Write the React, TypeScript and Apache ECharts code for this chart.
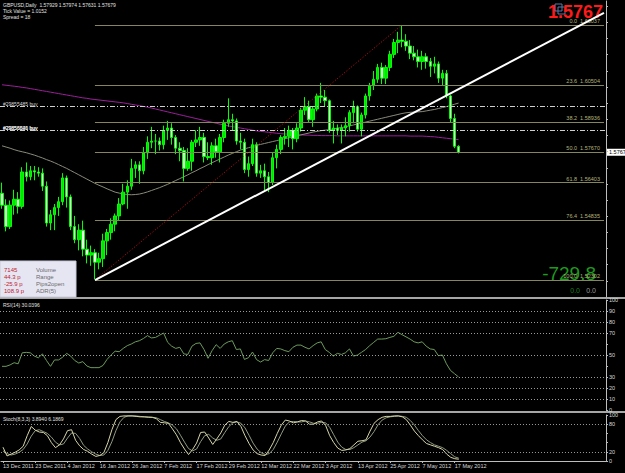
import React, { useEffect, useRef } from "react";
import * as echarts from "echarts";

// ---------- DATA ----------
const SYMBOL_HEADER = "GBPUSD,Daily  1.57929 1.57974 1.57631 1.57679";
const TICK_VALUE = "Tick Value = 1.0152";
const SPREAD = "Spread = 18";
const FIRST_DAY = "2011-12-13";
const BAR_COUNT = 114;
const SLOT_COUNT = 150; // bars + chart shift space
const BASE = 1.5161; // price-axis reference tick
const STEP = 0.0068; // price-axis tick step
const MAIN_MIN = 1.51586;
const MAIN_MAX = 1.64047;

const opens = [
  1.5595, 1.5545, 1.5455, 1.5545, 1.557, 1.554, 1.5685, 1.5665, 1.569, 1.5685,
  1.568, 1.5625, 1.547, 1.5505, 1.5535, 1.556, 1.566, 1.558, 1.5455, 1.54,
  1.544, 1.536, 1.5335, 1.5345, 1.5305, 1.532, 1.5395, 1.543, 1.5465, 1.55,
  1.555, 1.56, 1.5625, 1.57, 1.5715, 1.569, 1.5765, 1.581, 1.5815, 1.5815,
  1.58, 1.586, 1.587, 1.583, 1.5785, 1.5775, 1.57, 1.573, 1.581, 1.582,
  1.583, 1.575, 1.5745, 1.5795, 1.577, 1.583, 1.589, 1.5905, 1.59, 1.5815,
  1.581, 1.5695, 1.572, 1.58, 1.568, 1.569, 1.5665, 1.564, 1.5745, 1.578,
  1.583, 1.5835, 1.586, 1.5825, 1.587, 1.5945, 1.596, 1.5905, 1.595, 1.6005,
  1.6, 1.5985, 1.586, 1.587, 1.586, 1.587, 1.588, 1.5935, 1.596, 1.5865,
  1.5925, 1.6005, 1.605, 1.6075, 1.6125, 1.608, 1.6125, 1.618, 1.623, 1.624,
  1.6235, 1.6215, 1.6185, 1.617, 1.615, 1.617, 1.615, 1.613, 1.614, 1.608,
  1.61, 1.6005, 1.591, 1.57929,
];
const highs = [
  1.564, 1.557, 1.5565, 1.561, 1.56, 1.5705, 1.5725, 1.571, 1.571, 1.5705,
  1.57, 1.5645, 1.5525, 1.555, 1.558, 1.568, 1.567, 1.559, 1.55, 1.5465,
  1.548, 1.54, 1.5375, 1.536, 1.5345, 1.5425, 1.5445, 1.549, 1.551, 1.5575,
  1.5635, 1.565, 1.574, 1.573, 1.573, 1.579, 1.5835, 1.5875, 1.5845, 1.583,
  1.588, 1.59, 1.589, 1.584, 1.581, 1.579, 1.5785, 1.582, 1.586, 1.5875,
  1.585, 1.581, 1.581, 1.5825, 1.5845, 1.5905, 1.5995, 1.593, 1.591, 1.585,
  1.5825, 1.575, 1.5825, 1.581, 1.5715, 1.572, 1.5685, 1.5765, 1.58, 1.584,
  1.587, 1.588, 1.587, 1.589, 1.5955, 1.6, 1.5985, 1.596, 1.6015, 1.606,
  1.603, 1.599, 1.59, 1.5885, 1.5885, 1.5915, 1.5945, 1.5985, 1.5965, 1.5935,
  1.6015, 1.606, 1.611, 1.614, 1.6145, 1.6135, 1.6195, 1.6245, 1.6275, 1.6302,
  1.6265, 1.624, 1.6215, 1.62, 1.6195, 1.6185, 1.6165, 1.617, 1.615, 1.6115,
  1.6114, 1.601, 1.593, 1.57974,
];
const lows = [
  1.553, 1.5435, 1.5445, 1.5505, 1.551, 1.553, 1.5645, 1.565, 1.565, 1.5665,
  1.5605, 1.5455, 1.544, 1.544, 1.55, 1.5545, 1.5535, 1.544, 1.5385, 1.5355,
  1.533, 1.53, 1.529, 1.5234, 1.5275, 1.5285, 1.5335, 1.54, 1.5435, 1.548,
  1.5545, 1.553, 1.561, 1.566, 1.5635, 1.5675, 1.574, 1.5785, 1.576, 1.5775,
  1.578, 1.582, 1.58, 1.576, 1.573, 1.5645, 1.569, 1.569, 1.579, 1.5795,
  1.5725, 1.5735, 1.5715, 1.5745, 1.5725, 1.581, 1.5875, 1.586, 1.58, 1.578,
  1.568, 1.5665, 1.571, 1.5665, 1.566, 1.5605, 1.56, 1.563, 1.57, 1.576,
  1.58, 1.579, 1.578, 1.581, 1.5855, 1.5925, 1.5895, 1.5875, 1.594, 1.5975,
  1.596, 1.585, 1.5805, 1.584, 1.5805, 1.5835, 1.5855, 1.589, 1.5855, 1.5835,
  1.591, 1.5985, 1.603, 1.606, 1.6055, 1.6055, 1.611, 1.6165, 1.6185, 1.621,
  1.6195, 1.616, 1.6155, 1.6125, 1.6115, 1.612, 1.6085, 1.61, 1.606, 1.605,
  1.5995, 1.5895, 1.5785, 1.57631,
];
const closes = [
  1.5545, 1.5455, 1.5545, 1.557, 1.554, 1.5685, 1.5665, 1.569, 1.5685, 1.568,
  1.5625, 1.547, 1.5505, 1.5535, 1.556, 1.566, 1.558, 1.5455, 1.54, 1.544,
  1.536, 1.5335, 1.5345, 1.5305, 1.532, 1.5395, 1.543, 1.5465, 1.55, 1.555,
  1.56, 1.5625, 1.57, 1.5715, 1.569, 1.5765, 1.581, 1.5815, 1.5815, 1.58,
  1.586, 1.587, 1.583, 1.5785, 1.5775, 1.57, 1.573, 1.581, 1.582, 1.583,
  1.575, 1.5745, 1.5795, 1.577, 1.583, 1.589, 1.5905, 1.59, 1.5815, 1.581,
  1.5695, 1.572, 1.58, 1.568, 1.569, 1.5665, 1.564, 1.5745, 1.578, 1.583,
  1.5835, 1.586, 1.5825, 1.587, 1.5945, 1.596, 1.5905, 1.595, 1.6005, 1.6,
  1.5985, 1.586, 1.587, 1.586, 1.587, 1.588, 1.5935, 1.596, 1.5865, 1.5925,
  1.6005, 1.605, 1.6075, 1.6125, 1.608, 1.6125, 1.618, 1.623, 1.624, 1.6235,
  1.6215, 1.6185, 1.617, 1.615, 1.617, 1.615, 1.613, 1.614, 1.608, 1.61,
  1.6005, 1.591, 1.5793, 1.57679,
];

const maSlow = [
  1.6052, 1.605, 1.6048, 1.6046, 1.6044, 1.6041, 1.6039, 1.6036, 1.6033, 1.603,
  1.6027, 1.6024, 1.6021, 1.6018, 1.6015, 1.6012, 1.6009, 1.6006, 1.6003, 1.6,
  1.5997, 1.5995, 1.5992, 1.599, 1.5988, 1.5986, 1.5984, 1.5982, 1.598, 1.5978,
  1.5976, 1.5973, 1.597, 1.5967, 1.5964, 1.5961, 1.5958, 1.5954, 1.595, 1.5946,
  1.5942, 1.5938, 1.5934, 1.593, 1.5926, 1.5922, 1.5918, 1.5914, 1.591, 1.5906,
  1.5902, 1.5898, 1.5894, 1.589, 1.5886, 1.5882, 1.5879, 1.5876, 1.5873, 1.587,
  1.5867, 1.5864, 1.5861, 1.5858, 1.5856, 1.5854, 1.5852, 1.585, 1.5848, 1.5846,
  1.5845, 1.5844, 1.5843, 1.5842, 1.5841, 1.584, 1.584, 1.5839, 1.5839, 1.5838,
  1.5838, 1.5838, 1.5838, 1.5837, 1.5837, 1.5837, 1.5837, 1.5837, 1.5837, 1.5837,
  1.5837, 1.5837, 1.5837, 1.5837, 1.5837, 1.5837, 1.5837, 1.5837, 1.5837, 1.5837,
  1.5837, 1.5836, 1.5836, 1.5836, 1.5836, 1.5835, 1.5834, 1.5833, 1.5831, 1.5829,
  1.5827, 1.5825, 1.5823, 1.5821,
];
const maFast = [
  1.5795, 1.579, 1.5785, 1.5779, 1.5774, 1.577, 1.5766, 1.5761, 1.5756, 1.575,
  1.5744, 1.5737, 1.5731, 1.5724, 1.5716, 1.5708, 1.57, 1.5691, 1.5682, 1.5673,
  1.5664, 1.5655, 1.5646, 1.5637, 1.5629, 1.5622, 1.5614, 1.5607, 1.56, 1.5596,
  1.5592, 1.559, 1.5589, 1.559, 1.5592, 1.5596, 1.5601, 1.5607, 1.5613, 1.5619,
  1.5626, 1.5633, 1.5641, 1.5649, 1.5657, 1.5665, 1.5673, 1.5682, 1.569, 1.5699,
  1.5707, 1.5716, 1.5724, 1.5732, 1.574, 1.5748, 1.5756, 1.5763, 1.577, 1.5777,
  1.5782, 1.5787, 1.5792, 1.5797, 1.5801, 1.5805, 1.5809, 1.5813, 1.5817, 1.5821,
  1.5825, 1.5829, 1.5833, 1.5837, 1.5841, 1.5845, 1.5849, 1.5853, 1.5856, 1.5859,
  1.5861, 1.5863, 1.5866, 1.5869, 1.5872, 1.5875, 1.5879, 1.5883, 1.5887, 1.5891,
  1.5895, 1.5899, 1.5903, 1.5907, 1.5911, 1.5915, 1.5919, 1.5923, 1.5927, 1.5931,
  1.5934, 1.5936, 1.5937, 1.5938, 1.5939, 1.5942, 1.5945, 1.5948, 1.5952, 1.5956,
  1.596, 1.5965, 1.597, 1.5975,
];

const rsi = [
  39.7, 39.7, 41, 43, 42, 52, 52.4, 52, 49, 47.5,
  51, 45, 39.7, 45.5, 45.5, 48, 51.5, 49, 45, 42.7,
  44, 40, 38.5, 38.5, 38.5, 40.5, 46, 50, 53.5, 53,
  56, 58.5, 60, 62, 63, 65, 67.6, 65.5, 66, 68,
  70, 61.5, 58, 56, 57, 51, 50.5, 58, 60.5, 61,
  55, 47, 54, 59.4, 56, 60, 62, 63, 55, 55.5,
  46, 47.5, 52.7, 45.8, 43.6, 45.8, 45, 52, 56, 55.5,
  54, 53, 57, 59, 59, 57, 55.5, 58.5, 61, 62,
  55, 52.4, 49, 51.5, 50.5, 52, 55.5, 49, 50, 52.5,
  55, 58.5, 61.5, 64.5, 64.5, 64.8, 66, 67, 70.6, 68.5,
  66.5, 64.5, 62, 61, 62, 58, 55.5, 55, 49.4, 50,
  42, 36, 33, 30.04,
];
const stochMain = [
  30, 11, 15, 19, 24, 32, 55, 75, 67, 63,
  62, 55, 40, 29, 35, 48, 66, 68, 45, 33,
  25, 21, 15, 10, 12, 18, 40, 68, 90, 97,
  98, 98, 98, 97, 96, 96, 95, 95, 92, 84,
  83, 82, 70, 57, 40, 26, 14, 25, 39, 62,
  63, 50, 36, 48, 61, 78, 86, 84, 86, 75,
  55, 38, 24, 16, 13, 12, 24, 40, 60, 78,
  89, 87, 83, 85, 88, 87, 80, 80, 85, 87,
  77, 55, 40, 28, 23, 24, 27, 35, 43, 44,
  46, 65, 82, 90, 95, 97, 97, 98, 98, 96,
  90, 78, 65, 55, 46, 38, 35, 32, 29, 25,
  15, 8, 5, 3.894,
];
const stochSignal = [
  22, 16, 13, 15, 19, 25, 37, 54, 66, 68,
  64, 60, 52, 41, 35, 37, 50, 61, 60, 49,
  34, 26, 20, 15, 12, 13, 23, 42, 66, 85,
  95, 98, 98, 98, 97, 96, 96, 95, 94, 90,
  86, 83, 78, 70, 56, 41, 27, 22, 26, 42,
  55, 58, 50, 45, 48, 62, 75, 83, 85, 82,
  72, 56, 39, 26, 18, 14, 16, 25, 41, 59,
  76, 85, 86, 85, 85, 87, 85, 82, 82, 84,
  83, 73, 57, 41, 30, 25, 25, 29, 35, 41,
  44, 52, 64, 79, 89, 94, 96, 97, 98, 97,
  95, 88, 78, 66, 55, 46, 40, 35, 32, 29,
  23, 16, 9, 6.1869,
];

const fibLevels = [0, 23.6, 38.2, 50, 61.8, 76.4, 100];
const fibPrices = [1.63037, 1.60504, 1.58936, 1.5767, 1.56403, 1.54835, 1.52302];
const FIB_START_BAR = 23;
const fibTrend = [
  [23, 1.52302],
  [99, 1.63037],
];
const trendLine = [
  [23, 1.523],
  [149, 1.6355],
];
const orderLabels = ["#29855485 buy", "#29855626 buy", "#29856040 buy", "#29856541 buy"];
const orderPrices = [1.59206, 1.59059, 1.58869, 1.58175];

const rsiLevels = [10, 20, 30, 50, 70, 80, 90];
const rsiTickLabels = [0, 10, 20, 30, 50, 70, 80, 90, 100];
const stochLevels = [20, 80];
const stochTickLabels = [0, 20, 80, 100];

const infoValues = ["7145", "44.3 p", "-25.9 p", "108.9 p"];
const infoNames = ["Volume", "Range", "Pips2open", "ADR(5)"];
const BIG_PRICE = "1.5767";
const PROFIT = "-729.8";
const SMALL_A = "0.0";
const SMALL_B = "0.0";

const MONTHS = ["Jan", "Feb", "Mar", "Apr", "May", "Jun", "Jul", "Aug", "Sep", "Oct", "Nov", "Dec"];

function tradingDays(start: string, n: number): string[] {
  const d = new Date(start + "T00:00:00Z");
  const out: string[] = [];
  while (out.length < n) {
    const wd = d.getUTCDay();
    if (wd !== 0 && wd !== 6) {
      out.push(`${d.getUTCDate()} ${MONTHS[d.getUTCMonth()]} ${d.getUTCFullYear()}`);
    }
    d.setUTCDate(d.getUTCDate() + 1);
  }
  return out;
}

const FONT = '"Liberation Sans", Arial, sans-serif';
const AXIS_COLOR = "#bdbdbd";
const LABEL_COLOR = "#d8d8d8";

export default function App() {
  const ref = useRef<HTMLDivElement>(null);

  useEffect(() => {
    document.body.style.margin = "0";
    document.body.style.background = "#000";
    const el = ref.current!;
    const chart = echarts.init(el, null, { renderer: "svg" });

    const dates = tradingDays(FIRST_DAY, BAR_COUNT);
    const categories: string[] = [];
    for (let i = 0; i < SLOT_COUNT; i++) categories.push(i < BAR_COUNT ? dates[i] : "f" + i);

    const off = (v: number) => v - BASE;
    const candleData = opens.map((o, i) => [off(o), off(closes[i]), off(lows[i]), off(highs[i])]);

    const gridDefs = [
      { left: 0, top: 1, width: 606, height: 296 },
      { left: 0, top: 300, width: 606, height: 110 },
      { left: 0, top: 415, width: 606, height: 46 },
    ];

    const xAxes = gridDefs.map((_, gi) => ({
      type: "category",
      gridIndex: gi,
      data: categories,
      boundaryGap: true,
      axisLine: gi === 2 ? { show: true, lineStyle: { color: AXIS_COLOR, width: 1 } } : { show: false },
      axisTick:
        gi === 2
          ? {
              show: true,
              alignWithLabel: true,
              length: 2,
              interval: (idx: number) => idx < BAR_COUNT && idx % 8 === 0,
              lineStyle: { color: AXIS_COLOR },
            }
          : { show: false },
      axisLabel:
        gi === 2
          ? {
              show: true,
              interval: (idx: number) => idx < BAR_COUNT && idx % 8 === 0,
              align: "left",
              margin: 2,
              fontSize: 5.5,
              fontFamily: FONT,
              color: LABEL_COLOR,
              formatter: (v: string, idx: number) => (idx < BAR_COUNT ? v : ""),
            }
          : { show: false },
      splitLine: { show: false },
    }));

    const yAxisCommon = {
      position: "right",
      splitLine: { show: false },
      axisLine: { show: true, lineStyle: { color: AXIS_COLOR, width: 1 } },
      axisTick: { show: true, length: 2, lineStyle: { color: AXIS_COLOR } },
    };

    const yAxes = [
      {
        ...yAxisCommon,
        type: "value",
        gridIndex: 0,
        min: off(MAIN_MIN),
        max: off(MAIN_MAX),
        interval: STEP,
        axisLabel: {
          fontSize: 5.5,
          fontFamily: FONT,
          color: LABEL_COLOR,
          margin: 3,
          showMinLabel: false,
          showMaxLabel: false,
          formatter: (v: number) => {
            const k = v / STEP;
            if (Math.abs(k - Math.round(k)) > 0.01) return "";
            return (BASE + Math.round(k) * STEP).toFixed(5);
          },
        },
      },
      {
        ...yAxisCommon,
        type: "value",
        gridIndex: 1,
        min: 0,
        max: 100,
        interval: 10,
        axisLabel: {
          fontSize: 5.5,
          fontFamily: FONT,
          color: LABEL_COLOR,
          margin: 3,
          formatter: (v: number) => (rsiTickLabels.includes(Math.round(v)) ? String(Math.round(v)) : ""),
        },
      },
      {
        ...yAxisCommon,
        type: "value",
        gridIndex: 2,
        min: 0,
        max: 100,
        interval: 20,
        axisLabel: {
          fontSize: 5.5,
          fontFamily: FONT,
          color: LABEL_COLOR,
          margin: 3,
          formatter: (v: number) => (stochTickLabels.includes(Math.round(v)) ? String(Math.round(v)) : ""),
        },
      },
    ];

    const levelLine = (levels: number[]) => ({
      silent: true,
      symbol: ["none", "none"],
      label: { show: false },
      lineStyle: { color: "#9a9a9a", type: [1, 2], width: 1 },
      data: levels.map((l) => ({ yAxis: l })),
    });

    const series: any[] = [
      {
        name: "fib",
        type: "line",
        xAxisIndex: 0,
        yAxisIndex: 0,
        data: [],
        z: 1,
        markLine: {
          silent: true,
          symbol: ["none", "none"],
          lineStyle: { color: "#86865c", type: "solid", width: 1 },
          label: {
            show: true,
            position: "insideEndTop",
            distance: [4, 1],
            fontSize: 5.5,
            fontFamily: FONT,
            color: "#b4b47a",
          },
          data: fibLevels.map((lv, k) => [
            {
              coord: [FIB_START_BAR, off(fibPrices[k])],
              label: { formatter: `${lv.toFixed(1)}  ${fibPrices[k].toFixed(5)}` },
            },
            { coord: [SLOT_COUNT - 1, off(fibPrices[k])] },
          ]),
        },
      },
      {
        name: "orders",
        type: "line",
        xAxisIndex: 0,
        yAxisIndex: 0,
        data: [],
        z: 2,
        markLine: {
          silent: true,
          symbol: ["none", "none"],
          lineStyle: { color: "#cfcfcf", type: [5, 2, 1, 2], width: 1 },
          label: {
            show: true,
            position: "insideStartTop",
            distance: [3, 0],
            fontSize: 5,
            fontFamily: FONT,
            color: "#d8d8d8",
          },
          data: orderPrices.map((p, k) => ({ yAxis: off(p), label: { formatter: orderLabels[k] } })),
        },
      },
      {
        name: "maSlow",
        type: "line",
        xAxisIndex: 0,
        yAxisIndex: 0,
        data: maSlow.map(off),
        symbol: "none",
        z: 3,
        lineStyle: { color: "#9b1f9b", width: 1 },
      },
      {
        name: "maFast",
        type: "line",
        xAxisIndex: 0,
        yAxisIndex: 0,
        data: maFast.map(off),
        symbol: "none",
        z: 3,
        lineStyle: { color: "#8a8a7a", width: 1 },
      },
      {
        name: "candles",
        type: "candlestick",
        xAxisIndex: 0,
        yAxisIndex: 0,
        data: candleData,
        barWidth: 3,
        z: 4,
        itemStyle: {
          color: "#00e600",
          color0: "#e6ffe0",
          borderColor: "#00ff00",
          borderColor0: "#00ff00",
          borderWidth: 1,
        },
      },
      {
        name: "fibTrend",
        type: "line",
        xAxisIndex: 0,
        yAxisIndex: 0,
        data: fibTrend.map(([x, y]) => [x, off(y)]),
        symbol: "none",
        z: 5,
        lineStyle: { color: "#d01010", width: 1, type: [1, 2] },
      },
      {
        name: "trend",
        type: "line",
        xAxisIndex: 0,
        yAxisIndex: 0,
        data: trendLine.map(([x, y]) => [x, off(y)]),
        symbol: "none",
        z: 6,
        lineStyle: { color: "#ffffff", width: 2 },
      },
      {
        name: "rsi",
        type: "line",
        xAxisIndex: 1,
        yAxisIndex: 1,
        data: rsi,
        symbol: "none",
        lineStyle: { color: "#6c9a5c", width: 1 },
        markLine: levelLine(rsiLevels),
      },
      {
        name: "stochSignal",
        type: "line",
        xAxisIndex: 2,
        yAxisIndex: 2,
        data: stochSignal,
        symbol: "none",
        lineStyle: { color: "#8f9a80", width: 1 },
        markLine: levelLine(stochLevels),
      },
      {
        name: "stochMain",
        type: "line",
        xAxisIndex: 2,
        yAxisIndex: 2,
        data: stochMain,
        symbol: "none",
        lineStyle: { color: "#d6d6a8", width: 1 },
      },
    ];

    chart.setOption({
      animation: false,
      backgroundColor: "#000000",
      grid: gridDefs,
      xAxis: xAxes,
      yAxis: yAxes,
      series,
    });

    const lastClose = closes[closes.length - 1];
    const pY = chart.convertToPixel({ yAxisIndex: 0 } as any, off(lastClose)) as number;

    const txt = (x: number, y: number, text: string, fill: string, font: string, align = "left", valign = "top") => ({
      type: "text",
      x,
      y,
      silent: true,
      style: { text, fill, font, textAlign: align, textVerticalAlign: valign },
    });

    const graphics: any[] = [
      { type: "rect", silent: true, shape: { x: 0, y: 297, width: 625, height: 2 }, style: { fill: "#a6a6a6" } },
      { type: "rect", silent: true, shape: { x: 0, y: 411, width: 625, height: 2 }, style: { fill: "#a6a6a6" } },
      txt(3, 2, SYMBOL_HEADER, "#e0e0e0", `5px ${FONT}`),
      txt(3, 8, TICK_VALUE, "#e0e0e0", `5px ${FONT}`),
      txt(3, 14, SPREAD, "#e0e0e0", `5px ${FONT}`),
      txt(3, 302, "RSI(14) 30.0396", "#e0e0e0", `5px ${FONT}`),
      txt(3, 416, "Stoch(8,3,3) 3.8940 6.1869", "#e0e0e0", `5px ${FONT}`),
      { type: "rect", silent: true, shape: { x: 555, y: 4, width: 7, height: 7 }, style: { fill: "none", stroke: "#5a78a8", lineWidth: 1 } },
      { type: "rect", silent: true, shape: { x: 558, y: 7, width: 7, height: 7 }, style: { fill: "none", stroke: "#5a78a8", lineWidth: 1 } },
      txt(603, 3, BIG_PRICE, "#ff1a1a", `bold 18px ${FONT}`, "right"),
      txt(596, 273, PROFIT, "#1e9a1e", `19px ${FONT}`, "right", "middle"),
      txt(580, 290, SMALL_A, "#1f7a1f", `7px ${FONT}`, "right", "middle"),
      txt(596, 290, SMALL_B, "#9a9a9a", `7px ${FONT}`, "right", "middle"),
      { type: "rect", silent: true, shape: { x: 0, y: 261, width: 76, height: 36 }, style: { fill: "#e6e6f3", stroke: "#c8c8d8", lineWidth: 1 } },
      ...infoValues.map((v, i) => txt(4, 270 + i * 7, v, "#c0202e", `6px ${FONT}`, "left", "middle")),
      ...infoNames.map((v, i) => txt(36, 270 + i * 7, v, "#6a6a6a", `6px ${FONT}`, "left", "middle")),
      { type: "rect", silent: true, shape: { x: 607, y: pY - 3.5, width: 20, height: 7 }, style: { fill: "#ffffff" } },
      txt(609, pY, lastClose.toFixed(5), "#000000", `5.5px ${FONT}`, "left", "middle"),
    ];

    chart.setOption({ graphic: graphics });

    return () => chart.dispose();
  }, []);

  return (
    <div
      ref={ref}
      style={{ position: "absolute", left: 0, top: 0, width: 625, height: 473, background: "#000" }}
    />
  );
}
